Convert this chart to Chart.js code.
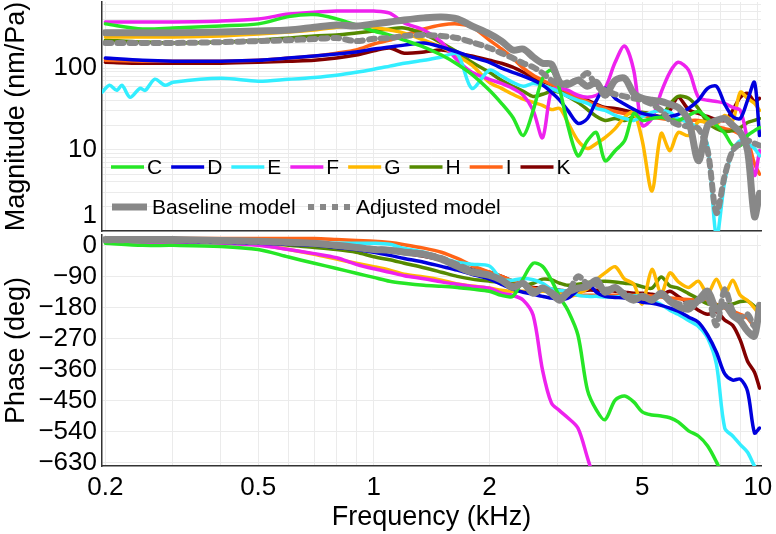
<!DOCTYPE html>
<html>
<head>
<meta charset="utf-8">
<script src="https://cdn.jsdelivr.net/npm/chart.js@4/dist/chart.umd.min.js"></script>
<style>
  html, body { margin: 0; padding: 0; background: #fff; }
  #wrap { position: relative; width: 776px; height: 534px; }
  #mag { position: absolute; left: 0; top: 0; }
  #phase { position: absolute; left: 0; top: 234px; }
</style>
</head>
<body>
<div id="wrap">
  <canvas id="mag" width="776" height="234"></canvas>
  <canvas id="phase" width="776" height="300"></canvas>
</div>
<script>
// frequency grid (kHz) shared by every curve
const freqKHz = [0.2, 0.25, 0.3, 0.4, 0.5, 0.6, 0.7, 0.8, 0.9, 1.0, 1.1, 1.2, 1.35, 1.5, 1.65, 1.8,
  2.0, 2.15, 2.3, 2.45, 2.6, 2.75, 2.9, 3.05, 3.2, 3.4, 3.6, 3.8, 4.0, 4.25, 4.5, 4.75, 5.0,
  5.3, 5.6, 5.9, 6.2, 6.6, 7.0, 7.4, 7.8, 8.2, 8.6, 9.0, 9.4, 9.8, 10.1];

const ears = ['C', 'D', 'E', 'F', 'G', 'H', 'I', 'K'];

// magnitude, nm/Pa
const magC = [350,303,312,330,350,430,455,403,339,286,255,221,182,145,112,84,53.6,37,25,14.9,30.3,75,94.5,53.6,19.8,8.4,12.9,16.2,7.3,9.7,12.9,27.8,22.8,24.1,25,23.4,22.8,26.3,29.4,24.1,19.8,15.8,11.2,11.2,14.9,17.1,18.6];
const magD = [133,125,122,122,125,133,141,149,158,172,182,192,204,182,158,137,118,100,89,80,71,62,50.6,40.3,30.3,21,24.1,40.3,56.5,42.6,36,31.2,27.8,26.3,25,25.5,27,32,40.3,56.5,60,36,25.5,24.1,40.3,67,14.9];
const magE = [56.5,55,67,75,69,73,77,82,89,97,106,115,125,137,149,56.5,94.5,80,67,60,65,62,56.5,50.6,45,40.3,37,32,30.3,26.3,24.1,22.8,25.5,28.6,30.3,28.6,24.1,21.5,18.1,11.2,0.85,4.1,9.7,12.9,11.9,10.3,8.4];
const magF = [370,370,370,380,403,462,488,503,503,503,475,360,294,209,125,89,73,65,56.5,46.5,30.3,14,53.6,56.5,53.6,46.5,44,46.5,56.5,118,187,94.5,19.8,24.1,50.6,89,118,94.5,44,40.3,39,37,33,30.3,12.9,4.8,9.7];
const magG = [242,242,242,249,263,278,294,318,339,318,294,270,221,182,141,109,67,56.5,47.8,41.6,38,35,31,32,21.5,12.9,10.3,11.9,14,18.1,25,29,12.9,3.1,15.8,9.7,16.2,14.9,22,21.5,20.3,26.3,22.8,50.6,42.6,37,30.3];
const magH = [221,209,204,209,221,235,249,255,270,286,303,312,263,204,158,118,89,71,60,52,45,47.8,52,50.6,45,38,31,25.5,22.8,24.1,22.8,25.5,28.6,27,25.5,36,45,42.6,32,21.5,18.1,16.7,17.1,18.6,21.5,22.8,24.1];
const magI = [125,122,122,122,125,133,141,153,167,198,221,255,303,339,350,320,221,172,133,100,82,71,63,58,50.6,43.8,39,35,32,29.4,27.8,27.8,26.3,25,24.1,23.4,22.8,22.8,22.8,21.5,19.2,18.1,17.1,15.3,12.9,6.7,5];
const magK = [118,115,115,115,118,122,125,133,145,163,177,153,158,167,153,141,125,115,103,89,77,69,62,56.5,50.6,43.8,40.3,36,33,32,30.3,28.6,28.6,27,25.5,30.3,44,31,27.8,25.5,23.4,22.8,30.3,43.8,49,39,42.6];
const magBaseline = [272,272,272,278,286,294,318,339,330,350,370,391,415,426,403,330,263,215,167,172,137,115,112,67,63,71,60,67,46.5,71,75,49,42.6,40.3,39,36,33,22.8,7.3,19.8,22.8,24.1,19.8,16.2,9.7,1.5,2.9];
const magAdjusted = [204,204,204,209,215,221,228,235,215,230,235,249,255,249,235,209,177,153,133,115,103,87,71,63,67,71,87,60,53.6,47.8,45,42.6,40.3,36,30.3,22.8,20.3,19.2,18.1,9.7,1.67,4.8,9.7,11.9,12.9,11.9,11.2];

// E is noisy below 0.3 kHz: finer readings there
const freqELow = [0.196, 0.205, 0.214, 0.221, 0.232, 0.246, 0.254, 0.269, 0.286];
const magELow = [50.6, 61.6, 53.4, 61.6, 43.8, 56.5, 53.4, 73.3, 61.6];

// phase, degrees
const phC = [6,0,0,-3,-12,-34,-52,-67,-81,-93,-104,-110,-116,-119,-122,-127,-133,-145,-148,-96,-52,-61,-101,-150,-188,-260,-420,-478,-506,-449,-437,-454,-483,-492,-495,-500,-512,-538,-553,-582,-628,-680,-730,null,null,null,null];
const phD = [12,12,12,9,6,3,0,-6,-12,-20,-29,-38,-49,-61,-72,-84,-98,-113,-127,-136,-142,-148,-153,-156,-153,-130,-110,-136,-148,-151,-153,-159,-165,-168,-174,-182,-191,-208,-223,-260,-310,-373,-391,-388,-423,-544,-530];
const phE = [14,12,12,12,9,9,6,6,6,6,3,-9,-20,-35,-49,-55,-60,-98,-101,-96,-100,-110,-127,-131,-133,-145,-148,-148,-150,-150,-148,-146,-148,-160,-172,-188,-200,-218,-235,-269,-345,-530,-553,-578,-600,-640,-660];
const phF = [12,9,9,6,0,-12,-24,-36,-55,-68,-78,-88,-97,-106,-113,-119,-124,-139,-145,-159,-203,-362,-457,-480,-500,-530,-616,-700,null,null,null,null,null,null,null,null,null,null,null,null,null,null,null,null,null,null,null];
const phG = [14,12,12,9,2,-12,-26,-40,-52,-62,-72,-84,-92,-101,-112,-118,-124,-130,-133,-133,-136,-133,-136,-142,-150,-140,-126,-100,-80,-62,-98,-112,-170,-70,-140,-80,-105,-122,-104,-140,-98,-142,-101,-145,-160,-182,-203];
const phH = [14,14,12,12,9,0,-6,-12,-20,-33,-42,-52,-65,-78,-90,-98,-104,-107,-112,-116,-110,-98,-100,-110,-116,-113,-108,-105,-104,-106,-110,-113,-120,-124,-92,-118,-124,-140,-155,-170,-174,-174,-170,-163,-162,-177,-191];
const phI = [20,20,20,20,20,20,20,17,14,12,8,2,-8,-20,-38,-58,-78,-90,-104,-116,-124,-130,-136,-139,-142,-145,-145,-145,-145,-145,-145,-145,-145,-147,-150,-153,-155,-157,-159,-165,-171,-182,-191,-200,-211,-234,-211];
const phK = [14,14,14,12,12,9,6,0,-6,-12,-17,-23,-32,-43,-58,-69,-78,-90,-104,-116,-122,-124,-127,-130,-133,-133,-130,-130,-130,-133,-136,-139,-139,-142,-145,-133,-148,-168,-188,-200,-192,-217,-232,-275,-336,-368,-414];
const phBaseline = [17,17,17,14,12,9,6,0,-6,-12,-14,-20,-26,-40,-61,-78,-87,-101,-122,-110,-139,-124,-139,-159,-136,-124,-119,-101,-136,-122,-145,-159,-148,-159,-139,-162,-177,-185,-159,-133,-185,-174,-203,-220,-249,-263,-174];
const phAdjusted = [15,15,15,12,10,8,5,-1,-6,-11,-14,-19,-25,-37,-56,-73,-86,-100,-118,-112,-132,-126,-136,-150,-140,-90,-112,-115,-128,-126,-140,-152,-150,-155,-145,-158,-170,-168,-162,-150,-232,-128,-190,-210,-200,-235,-190];

const freqTicks = [0.2,0.3,0.4,0.5,0.6,0.7,0.8,0.9,1,2,3,4,5,6,7,8,9,10];
const freqLabels = [0.2, 0.5, 1, 2, 5, 10];
const magTicks = [1,2,3,4,5,6,7,8,9,10,20,30,40,50,60,70,80,90,100,200,300,400,500,600];
const phaseTicks = [-630,-540,-450,-360,-270,-180,-90,0];

const earColors = ['#26e626', '#0000dd', '#33eeff', '#ee22ee', '#ffb800', '#558a00', '#ff6417', '#820000'];
const grey = '#888888';
const fontFamily = "'Liberation Sans', Arial, sans-serif";

Chart.defaults.font.family = fontFamily;
Chart.defaults.color = '#000';

function pts(vals) {
  return freqKHz.map((f, i) => ({ x: f, y: vals[i] }));
}

// swap the coarse low end of a curve for finer readings
function withLowDetail(points, fLow, vLow) {
  const lim = fLow[fLow.length - 1];
  return fLow.map((f, i) => ({ x: f, y: vLow[i] })).concat(points.filter(p => p.x > lim));
}

function buildSets(perEar, base, adj) {
  const sets = perEar.map((vals, i) => ({
    label: ears[i], data: pts(vals), borderColor: earColors[i], borderWidth: 3.5, order: 2 + i
  }));
  sets.push({ label: 'Baseline model', data: pts(base), borderColor: grey, borderWidth: 7, order: 0 });
  sets.push({ label: 'Adjusted model', data: pts(adj), borderColor: grey, borderWidth: 6, borderDash: [6, 6], order: 1 });
  return sets;
}

function freqAxis(showLabels) {
  return {
    type: 'logarithmic', min: 0.196, max: 10.19,
    afterBuildTicks: s => { s.ticks = freqTicks.map(v => ({ value: v })); },
    grid: { color: '#ebebeb', drawTicks: false },
    border: { color: '#333', width: 1.5 },
    ticks: {
      display: showLabels, autoSkip: false, maxRotation: 0, padding: 6, font: { size: 26 },
      callback: v => freqLabels.includes(v) ? String(v) : ''
    },
    title: { display: showLabels, text: 'Frequency (kHz)', font: { size: 27 }, padding: 0 },
    afterFit: s => {
      s.height = showLabels ? 68 : 0;
      s.paddingLeft = 0; s.paddingRight = 0;
    }
  };
}

// fixed-width y axis, no automatic label padding above/below the plot
function fitY(s) {
  s.width = 102;
  s.paddingTop = 0; s.paddingBottom = 0;
}

const common = {
  responsive: false, animation: false,
  elements: { point: { radius: 0 }, line: { tension: 0.3, borderJoinStyle: 'round', borderCapStyle: 'round' } },
  plugins: { legend: { display: false }, tooltip: { enabled: false } }
};

// legend drawn inside the magnitude panel, two rows
const insideLegend = {
  id: 'insideLegend',
  afterDraw(chart) {
    const ctx = chart.ctx;
    const sets = chart.data.datasets;
    ctx.save();
    ctx.font = '21px ' + fontFamily;
    ctx.textBaseline = 'middle';
    ctx.fillStyle = '#000';
    let x = 111;
    sets.slice(0, 8).forEach(ds => {
      ctx.strokeStyle = ds.borderColor;
      ctx.lineWidth = ds.borderWidth;
      ctx.beginPath(); ctx.moveTo(x, 167); ctx.lineTo(x + 33, 167); ctx.stroke();
      ctx.fillText(ds.label, x + 36, 168);
      x += 36 + ctx.measureText(ds.label).width + 9;
    });
    const base = sets[8], adj = sets[9];
    ctx.strokeStyle = base.borderColor; ctx.lineWidth = base.borderWidth;
    ctx.beginPath(); ctx.moveTo(112, 207); ctx.lineTo(147, 207); ctx.stroke();
    ctx.fillText(base.label, 152, 208);
    ctx.lineWidth = adj.borderWidth; ctx.setLineDash(adj.borderDash);
    ctx.beginPath(); ctx.moveTo(308, 207); ctx.lineTo(350, 207); ctx.stroke();
    ctx.setLineDash([]);
    ctx.fillText(adj.label, 356, 208);
    ctx.restore();
  }
};

const magSets = buildSets([magC, magD, magE, magF, magG, magH, magI, magK], magBaseline, magAdjusted);
magSets[2].data = withLowDetail(magSets[2].data, freqELow, magELow);

new Chart(document.getElementById('mag'), {
  type: 'line',
  data: { datasets: magSets },
  options: {
    ...common,
    layout: { padding: { left: 0, right: 15, top: 2, bottom: 3 } },
    scales: {
      x: freqAxis(false),
      y: {
        type: 'logarithmic', min: 1, max: 650,
        afterBuildTicks: s => { s.ticks = magTicks.map(v => ({ value: v })); },
        grid: { color: '#ebebeb', drawTicks: false },
        border: { color: '#333', width: 1.5 },
        ticks: {
          autoSkip: false, padding: 5, font: { size: 26 },
          callback: v => v === 1 ? ['1', ''] : (v === 10 || v === 100 ? String(v) : '')
        },
        title: { display: true, text: 'Magnitude (nm/Pa)', font: { size: 27 }, padding: 0 },
        afterFit: fitY
      }
    }
  },
  plugins: [insideLegend]
});

new Chart(document.getElementById('phase'), {
  type: 'line',
  data: { datasets: buildSets([phC, phD, phE, phF, phG, phH, phI, phK], phBaseline, phAdjusted) },
  options: {
    ...common,
    layout: { padding: { left: 0, right: 15, top: 1, bottom: 0 } },
    scales: {
      x: freqAxis(true),
      y: {
        type: 'linear', min: -640, max: 30,
        afterBuildTicks: s => { s.ticks = phaseTicks.map(v => ({ value: v })); },
        grid: { color: '#ebebeb', drawTicks: false },
        border: { color: '#333', width: 1.5 },
        ticks: { autoSkip: false, padding: 5, font: { size: 26 }, callback: v => String(v).replace('-', '\u2212') },
        title: { display: true, text: 'Phase (deg)', font: { size: 27 }, padding: 0 },
        afterFit: fitY
      }
    }
  }
});
</script>
</body>
</html>
